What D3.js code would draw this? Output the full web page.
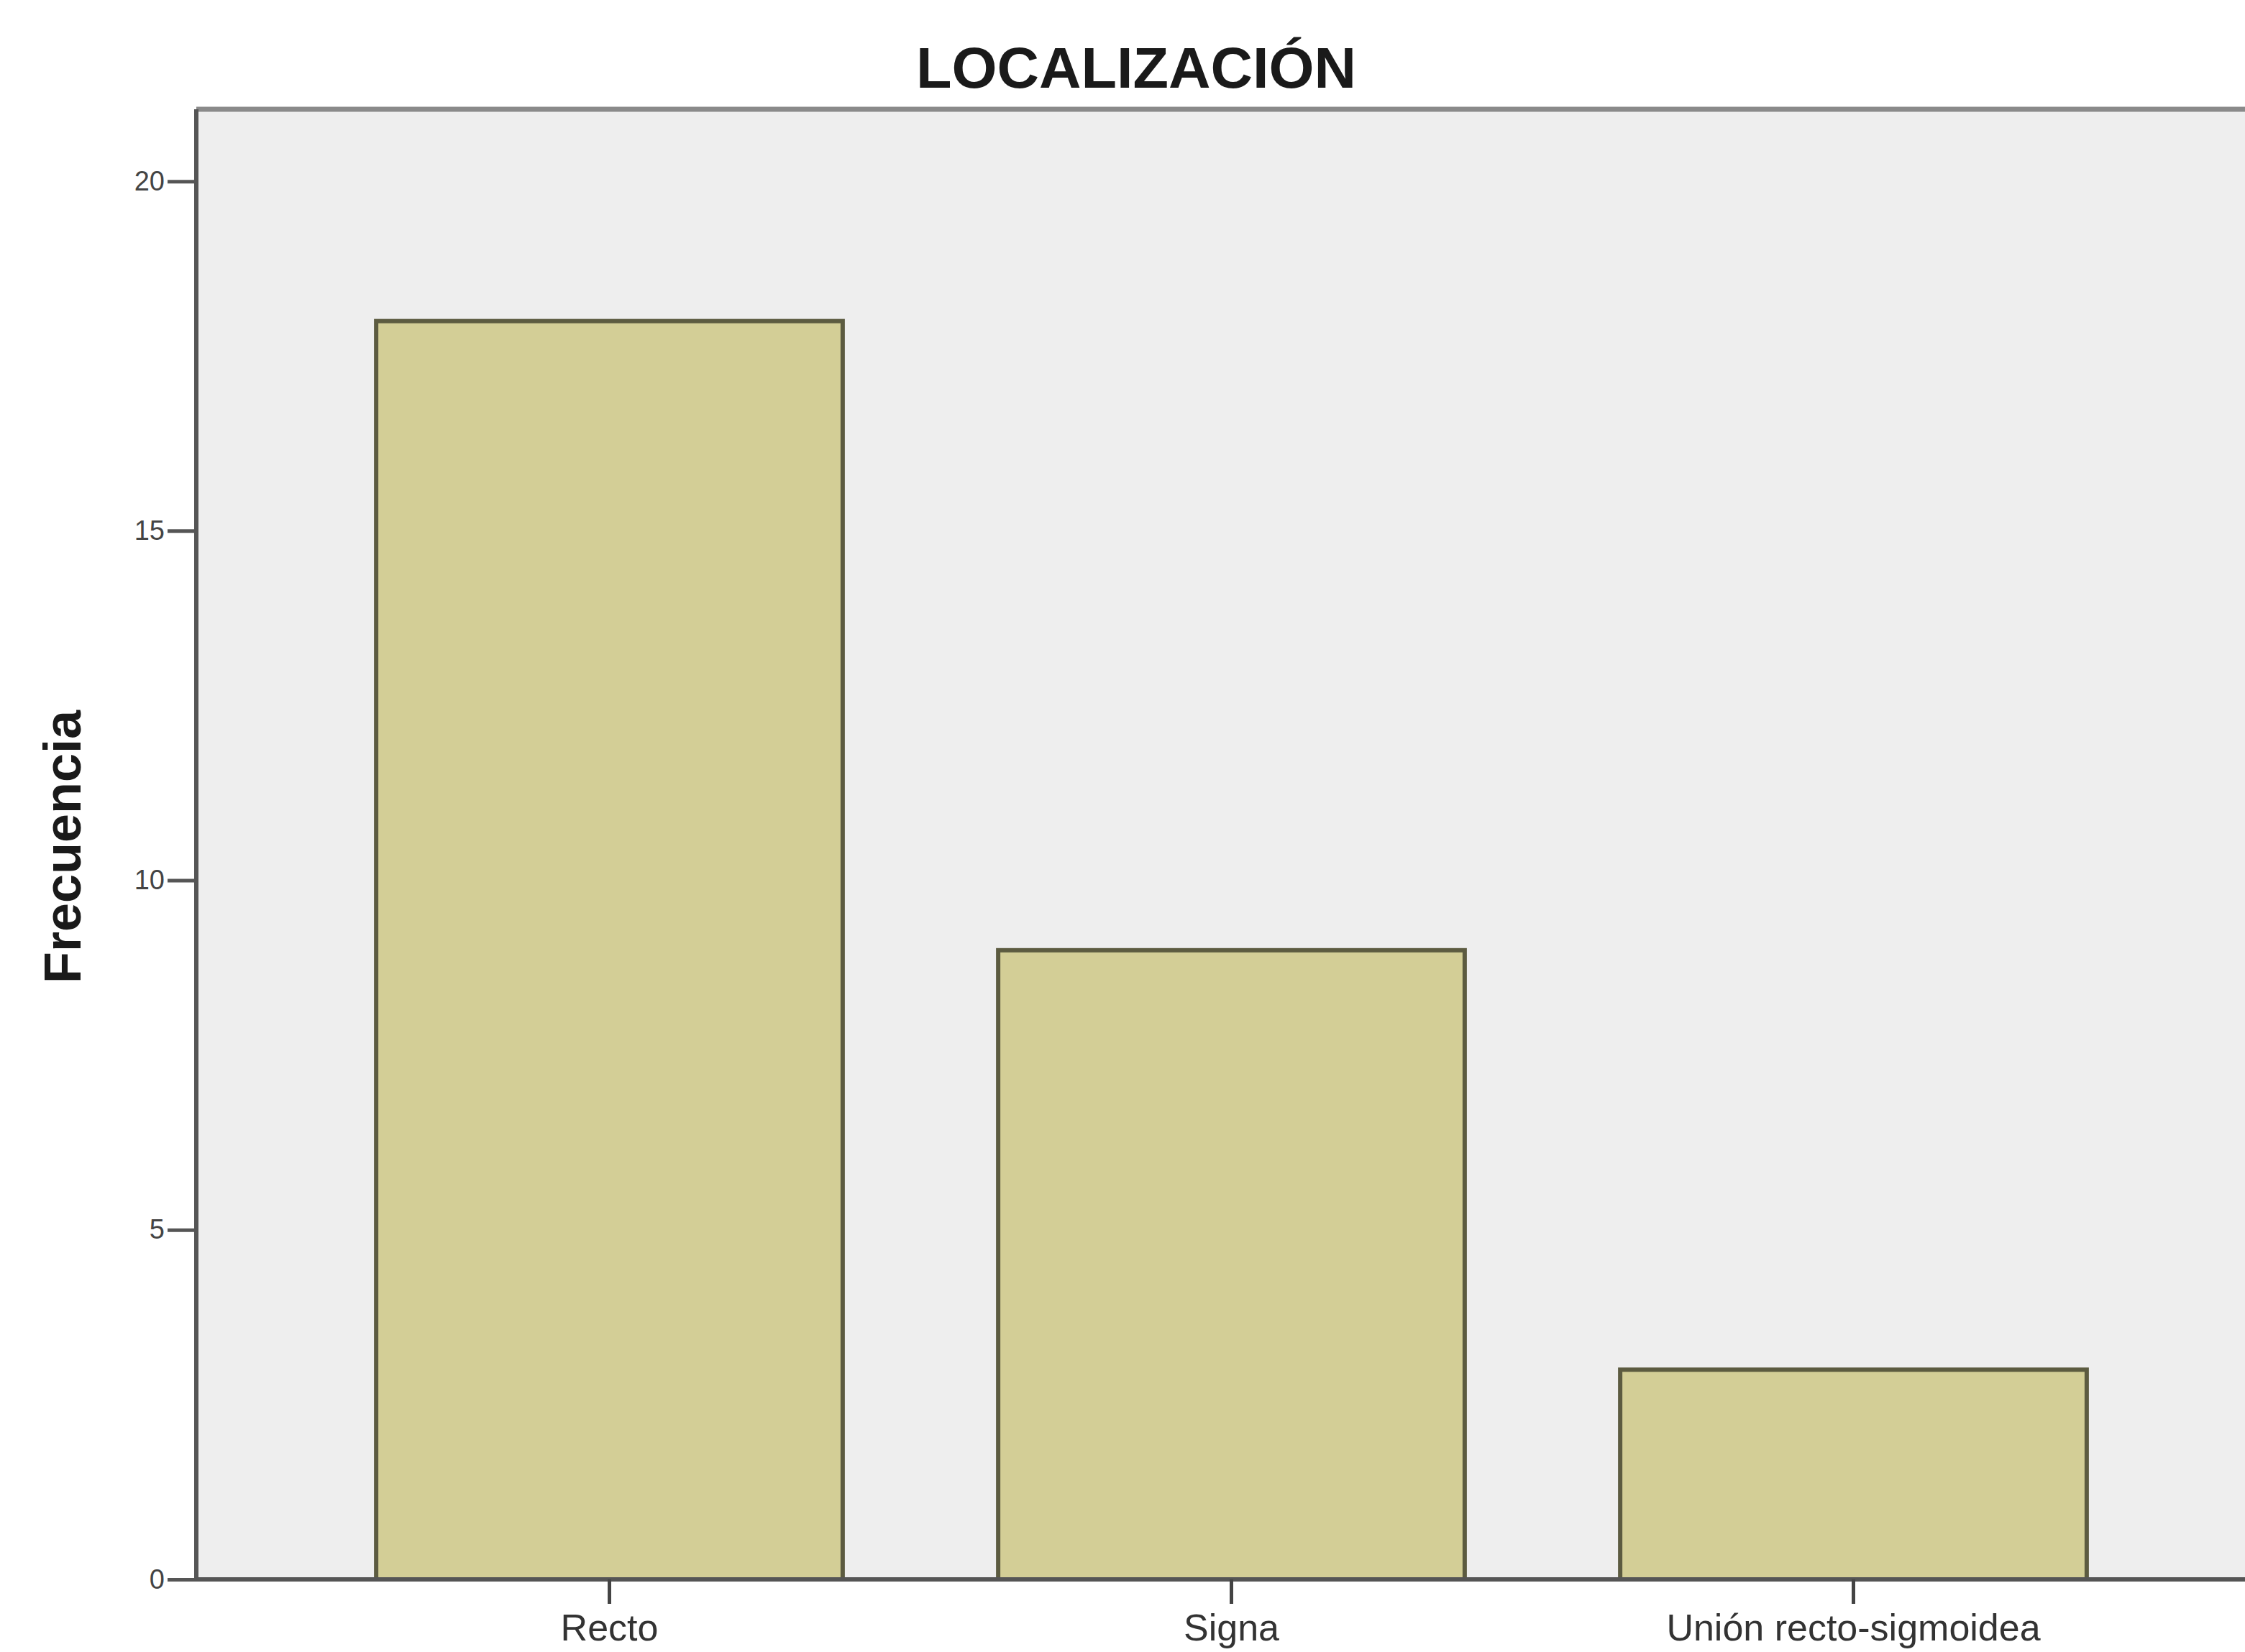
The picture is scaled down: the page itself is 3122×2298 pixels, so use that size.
<!DOCTYPE html>
<html>
<head>
  <meta charset="UTF-8">
  <style>
    body { margin: 0; background: #fff; }
    svg { display: block; font-family: "Liberation Sans", Arial, sans-serif; }
  </style>
  <title>LOCALIZACIÓN</title>
</head>
<body>
<svg></svg>
<script src="https://d3js.org/d3.v7.min.js"></script>
<script>

// data
let categories = ["Recto", "Signa", "Unión recto-sigmoidea"];
let frecuencias = [18, 9, 3];
let yTicks = [0, 5, 10, 15, 20];

let width = 3122, height = 2298;
let plotLeft = 273, plotTop = 152, plotBottom = 2197;

let svg = d3.select("svg")
    .attr("width", width)
    .attr("height", height)
    .attr("viewBox", "0 0 " + width + " " + height);

let x = d3.scaleBand()
    .domain(categories)
    .range([415, 3010])
    .paddingInner(0.25)
    .paddingOuter(0.125);

let y = d3.scaleLinear()
    .domain([0, 21.03])
    .range([plotBottom, plotTop]);

// plot background (runs off the right edge like the picture)
svg.append("rect")
    .attr("x", plotLeft)
    .attr("y", plotTop)
    .attr("width", width - plotLeft + 10)
    .attr("height", plotBottom - plotTop)
    .attr("fill", "#eeeeee");

svg.append("line")
    .attr("x1", plotLeft).attr("x2", width)
    .attr("y1", plotTop).attr("y2", plotTop)
    .attr("stroke", "#8a8a8a")
    .attr("stroke-width", 7);

// bars
svg.append("g")
    .selectAll("rect")
    .data(frecuencias)
    .enter()
    .append("rect")
    .attr("x", (d, i) => x(categories[i]))
    .attr("y", d => y(d))
    .attr("width", x.bandwidth())
    .attr("height", d => plotBottom - y(d))
    .attr("fill", "#d3ce96")
    .attr("stroke", "#5c5b40")
    .attr("stroke-width", 6);

// y axis
let yAxis = svg.append("g")
    .attr("transform", "translate(" + plotLeft + ",0)")
    .call(d3.axisLeft(y).tickValues(yTicks).tickSize(40).tickPadding(4));
yAxis.select(".domain").attr("stroke", "#555").attr("stroke-width", 6)
    .attr("d", "M0," + plotTop + "V" + plotBottom);
yAxis.selectAll(".tick line").attr("stroke", "#555").attr("stroke-width", 5);
yAxis.selectAll(".tick text")
    .attr("font-size", 38)
    .attr("fill", "#444")
    .attr("font-family", "Liberation Sans, Arial, sans-serif");

// x axis
let xAxis = svg.append("g")
    .attr("transform", "translate(0," + plotBottom + ")")
    .call(d3.axisBottom(x).tickSize(34).tickPadding(14));
xAxis.select(".domain").attr("stroke", "#555").attr("stroke-width", 6)
    .attr("d", "M" + plotLeft + ",0H" + width);
xAxis.selectAll(".tick line").attr("stroke", "#444").attr("stroke-width", 5);
xAxis.selectAll(".tick text")
    .attr("font-size", 52)
    .attr("fill", "#333")
    .attr("font-family", "Liberation Sans, Arial, sans-serif");

// title
svg.append("text")
    .attr("x", 1580)
    .attr("y", 122)
    .attr("text-anchor", "middle")
    .attr("font-size", 80)
    .attr("font-weight", "bold")
    .attr("fill", "#1a1a1a")
    .attr("textLength", 612)
    .attr("lengthAdjust", "spacingAndGlyphs")
    .text("LOCALIZACIÓN");

// y axis label
svg.append("text")
    .attr("transform", "translate(112,1178) rotate(-90)")
    .attr("text-anchor", "middle")
    .attr("font-size", 72)
    .attr("font-weight", "bold")
    .attr("fill", "#1a1a1a")
    .text("Frecuencia");

</script>
</body>
</html>
